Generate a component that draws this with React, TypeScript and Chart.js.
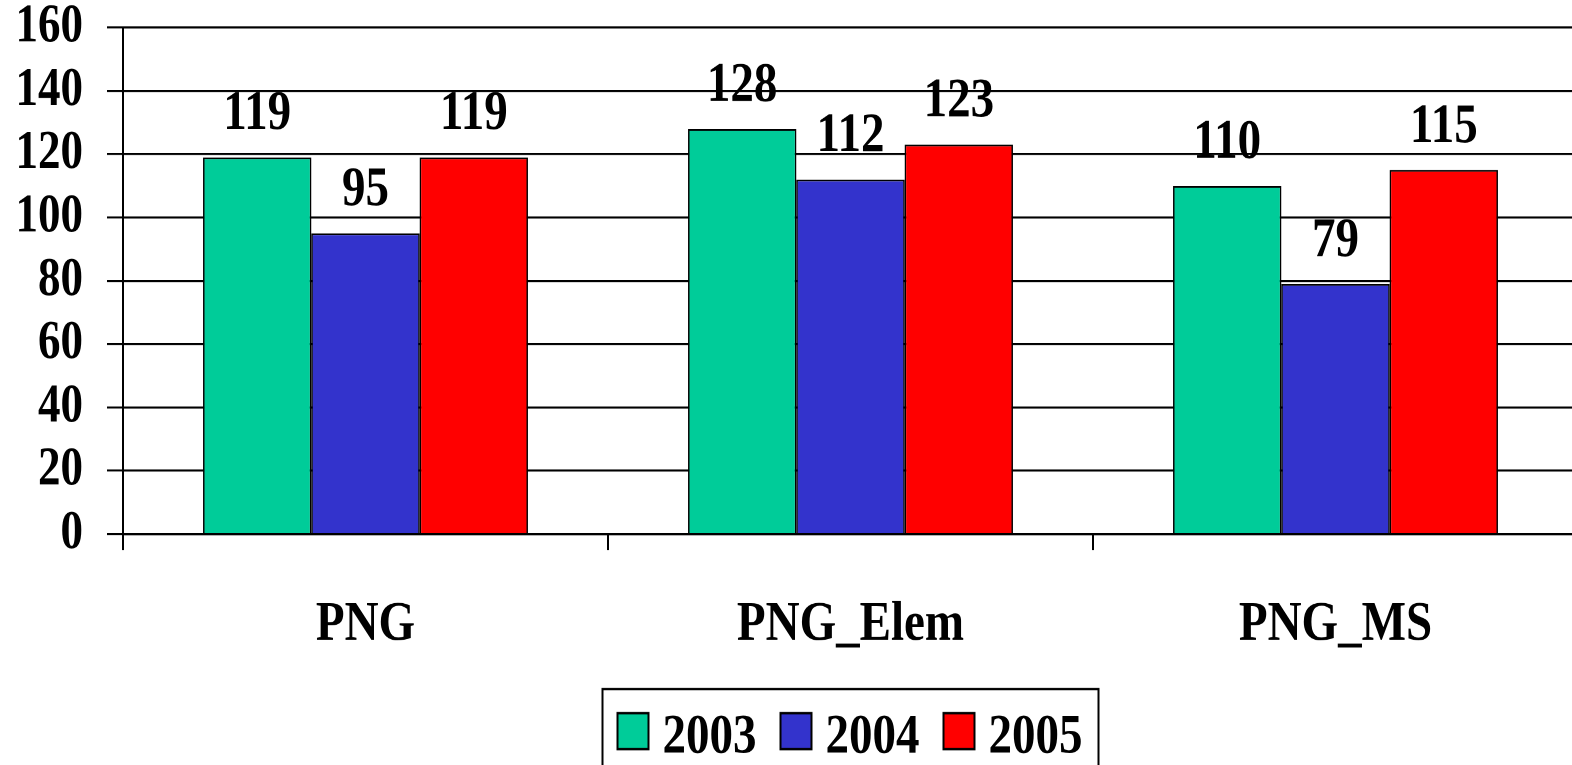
import React, { useEffect, useRef } from "react";
import { Chart, registerables } from "chart.js";

Chart.register(...registerables);

const categories = ["PNG", "PNG_Elem", "PNG_MS"];
const seriesNames = ["2003", "2004", "2005"];
const values2003 = [119, 128, 110];
const values2004 = [95, 112, 79];
const values2005 = [119, 123, 115];
const seriesColors = ["#00CC99", "#3333CC", "#FF0000"];
const yMin = 0;
const yMax = 160;
const yStep = 20;

const FONT = "'Liberation Serif', 'Times New Roman', serif";
const PAGE_W = 1572;
const CANVAS_W = 1578;
const H_INTERNAL = 638;
const H_DISPLAY = 765;

const overlayPlugin = {
  id: "overlay",
  afterDatasetsDraw(chart: any) {
    const ctx = chart.ctx;
    ctx.save();
    ctx.font = `bold 47px ${FONT}`;
    ctx.fillStyle = "#000";
    ctx.textAlign = "center";
    ctx.textBaseline = "alphabetic";
    chart.data.datasets.forEach((ds: any, i: number) => {
      const meta = chart.getDatasetMeta(i);
      meta.data.forEach((el: any, j: number) => {
        ctx.fillText(String(ds.data[j]), el.x, el.y - 23.5);
      });
    });
    ctx.restore();
  },
  afterDraw(chart: any) {
    const ctx = chart.ctx;
    const area = chart.chartArea;
    const ds = chart.data.datasets;
    ctx.save();
    ctx.font = `bold 47px ${FONT}`;
    const sq = 31, sqH = 30, gapText = 14, gapItem = 24, padL = 15, padR = 16;
    const widths = ds.map((d: any) => ctx.measureText(d.label).width);
    const total =
      widths.reduce((a: number, w: number) => a + sq + gapText + w, 0) +
      gapItem * (ds.length - 1);
    const boxW = total + padL + padR;
    const cx = (area.left + area.right) / 2;
    const boxLeft = cx - boxW / 2;
    const boxTop = area.bottom + 129.3;
    ctx.lineWidth = 2;
    ctx.strokeStyle = "#000";
    ctx.strokeRect(boxLeft, boxTop, boxW, chart.height - boxTop + 20);
    const cy = boxTop + 35.1;
    let x = boxLeft + padL;
    ds.forEach((d: any, i: number) => {
      ctx.fillStyle = d.backgroundColor;
      ctx.fillRect(x, cy - sqH / 2, sq, sqH);
      ctx.lineWidth = 2;
      ctx.strokeStyle = "#000";
      ctx.strokeRect(x, cy - sqH / 2, sq, sqH);
      ctx.fillStyle = "#000";
      ctx.textAlign = "left";
      ctx.textBaseline = "alphabetic";
      ctx.fillText(d.label, x + sq + gapText, cy + 17.5);
      x += sq + gapText + widths[i] + gapItem;
    });
    ctx.restore();
  },
};

export default function App() {
  const canvasRef = useRef<HTMLCanvasElement | null>(null);

  useEffect(() => {
    const canvas = canvasRef.current;
    if (!canvas) return;
    const seriesValues = [values2003, values2004, values2005];
    const chart = new Chart(canvas, {
      type: "bar",
      data: {
        labels: categories,
        datasets: seriesNames.map((name, i) => ({
          label: name,
          data: seriesValues[i],
          backgroundColor: seriesColors[i],
          borderColor: "#000",
          borderWidth: 1.5,
          categoryPercentage: 0.67,
          barPercentage: 1,
        })),
      },
      options: {
        responsive: false,
        devicePixelRatio: 2,
        animation: false,
        layout: { padding: { top: 23, left: 0, right: 0, bottom: 0 } },
        plugins: {
          legend: { display: false },
          tooltip: { enabled: false },
        },
        scales: {
          x: {
            grid: {
              display: true,
              drawOnChartArea: false,
              drawTicks: true,
              tickLength: 13.3,
              color: "#000",
              lineWidth: 2,
              offset: true,
            },
            border: { display: true, color: "#000", width: 2 },
            ticks: {
              font: { family: FONT, size: 47, weight: "bold", lineHeight: 1 },
              color: "#000",
              padding: 39,
              maxRotation: 0,
              autoSkip: false,
            },
            afterFit: (s: any) => {
              s.height = 192.65;
              s.paddingLeft = 0;
              s.paddingRight = 0;
            },
          },
          y: {
            min: yMin,
            max: yMax,
            grid: { color: "#000", lineWidth: 1.7, tickLength: 16, drawTicks: true },
            border: { display: true, color: "#000", width: 2 },
            ticks: {
              stepSize: yStep,
              font: { family: FONT, size: 45, weight: "bold", lineHeight: 1 },
              color: "#000",
              padding: 24,
            },
            afterFit: (s: any) => {
              s.width = 123;
              s.paddingTop = 0;
              s.paddingBottom = 0;
            },
          },
        },
      },
      plugins: [overlayPlugin],
    } as any);
    return () => chart.destroy();
  }, []);

  return (
    <div
      style={{
        position: "fixed",
        left: 0,
        top: 0,
        width: PAGE_W,
        height: H_DISPLAY,
        overflow: "hidden",
        background: "#fff",
      }}
    >
      <canvas
        ref={canvasRef}
        width={CANVAS_W}
        height={H_INTERNAL}
        style={{ width: `${CANVAS_W}px`, height: `${H_DISPLAY}px`, display: "block" }}
      />
    </div>
  );
}
